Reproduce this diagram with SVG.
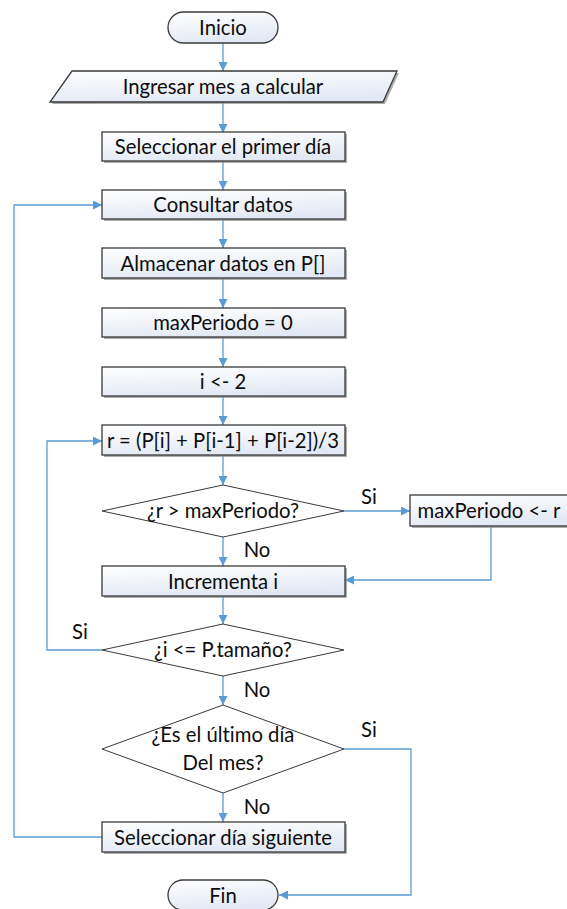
<svg xmlns="http://www.w3.org/2000/svg" width="567" height="909" viewBox="0 0 567 909">
<defs>
<linearGradient id="g" x1="0" y1="0" x2="0.3" y2="1">
<stop offset="0" stop-color="#ffffff"/>
<stop offset="1" stop-color="#e3e9f4"/>
</linearGradient>
<marker id="ah" viewBox="0 0 10 10" refX="10" refY="5" markerWidth="9" markerHeight="9" markerUnits="userSpaceOnUse" orient="auto">
<path d="M0,0 L10,5 L0,10 z" fill="#5b9bd5"/>
</marker>
</defs>
<style>
.box{fill:url(#g);stroke:#3a3a3a;stroke-width:1.3}
.sh{fill:#8a8a8a;opacity:0.7}
.dia{fill:#ffffff;stroke:#3a3a3a;stroke-width:1}
.t{font-family:Lato,"Liberation Sans",sans-serif;font-size:20.3px;fill:#0d0d0d;text-anchor:middle;font-variant-ligatures:none}
.lbl{font-family:Lato,"Liberation Sans",sans-serif;font-size:20.3px;fill:#0d0d0d;text-anchor:middle;font-variant-ligatures:none}
.c{fill:none;stroke:#5b9bd5;stroke-width:1.3;marker-end:url(#ah)}
</style>
<rect width="567" height="909" fill="#ffffff"/>
<g id="connectors">
<path class="c" d="M223,43 V71"/>
<path class="c" d="M223,102 V133"/>
<path class="c" d="M223,162 V190"/>
<path class="c" d="M223,220 V248"/>
<path class="c" d="M223,279 V308"/>
<path class="c" d="M223,338 V367"/>
<path class="c" d="M223,397 V425"/>
<path class="c" d="M223,456 V485"/>
<path class="c" d="M223,537 V566"/>
<path class="c" d="M344,511 H410"/>
<path class="c" d="M491,527 V580 H345"/>
<path class="c" d="M223,596 V624"/>
<path class="c" d="M102,650 H47 V441 H102"/>
<path class="c" d="M223,676 V705"/>
<path class="c" d="M223,793 V822"/>
<path class="c" d="M344,749 H411 V895 H279"/>
<path class="c" d="M102,837 H14 V205 H102"/>
<text class="lbl" x="369" y="504">Si</text>
<text class="lbl" x="257" y="557">No</text>
<text class="lbl" x="80" y="639">Si</text>
<text class="lbl" x="257" y="697">No</text>
<text class="lbl" x="369" y="737">Si</text>
<text class="lbl" x="257" y="814">No</text>
</g>
<g id="inicio">
<rect class="box" x="168" y="12" width="110" height="31" rx="15.5"/>
<text class="t" x="223" y="34.5">Inicio</text>
</g>
<g id="ingresar">
<polygon class="sh" points="74,73 399,73 385,104 52,104"/>
<polygon class="box" points="72,71 397,71 383,102 50,102"/>
<text class="t" x="223" y="93.5">Ingresar mes a calcular</text>
</g>
<g id="primer-dia">
<rect class="sh" x="104" y="134" width="243" height="29"/>
<rect class="box" x="102" y="132" width="243" height="29"/>
<text class="t" x="223" y="153.5">Seleccionar el primer día</text>
</g>
<g id="consultar">
<rect class="sh" x="104" y="192" width="243" height="29"/>
<rect class="box" x="102" y="190" width="243" height="29"/>
<text class="t" x="223" y="211.5">Consultar datos</text>
</g>
<g id="almacenar">
<rect class="sh" x="104" y="250" width="243" height="30"/>
<rect class="box" x="102" y="248" width="243" height="30"/>
<text class="t" x="223" y="270.5">Almacenar datos en P[]</text>
</g>
<g id="maxperiodo0">
<rect class="sh" x="104" y="310" width="243" height="29"/>
<rect class="box" x="102" y="308" width="243" height="29"/>
<text class="t" x="223" y="329.5">maxPeriodo = 0</text>
</g>
<g id="i2">
<rect class="sh" x="104" y="369" width="243" height="29"/>
<rect class="box" x="102" y="367" width="243" height="29"/>
<text class="t" x="223" y="388.5">i &lt;- 2</text>
</g>
<g id="r">
<rect class="sh" x="104" y="427" width="243" height="30"/>
<rect class="box" x="102" y="425" width="243" height="30"/>
<text class="t" x="223" y="447.5">r = (P[i] + P[i-1] + P[i-2])/3</text>
</g>
<g id="d1">
<polygon class="dia" points="102,511 223,485 344,511 223,537"/>
<text class="t" x="223" y="518">¿r &gt; maxPeriodo?</text>
</g>
<g id="maxperiodo-r">
<rect class="sh" x="412" y="497" width="160" height="31"/>
<rect class="box" x="410" y="495" width="160" height="31"/>
<text class="t" x="489" y="517.5">maxPeriodo &lt;- r</text>
</g>
<g id="incrementa">
<rect class="sh" x="104" y="568" width="243" height="30"/>
<rect class="box" x="102" y="566" width="243" height="30"/>
<text class="t" x="223" y="588.5">Incrementa i</text>
</g>
<g id="d2">
<polygon class="dia" points="102,650 223,624 344,650 223,676"/>
<text class="t" x="223" y="657">¿i &lt;= P.tamaño?</text>
</g>
<g id="d3">
<polygon class="dia" points="102,749 223,705 344,749 223,793"/>
<text class="t" x="223" y="742">¿Es el último día</text>
<text class="t" x="223" y="770">Del mes?</text>
</g>
<g id="siguiente">
<rect class="sh" x="104" y="824" width="243" height="30"/>
<rect class="box" x="102" y="822" width="243" height="30"/>
<text class="t" x="223" y="844.5">Seleccionar día siguiente</text>
</g>
<g id="fin">
<rect class="box" x="168" y="880" width="110" height="30" rx="15"/>
<text class="t" x="223" y="902.5">Fin</text>
</g>
</svg>
